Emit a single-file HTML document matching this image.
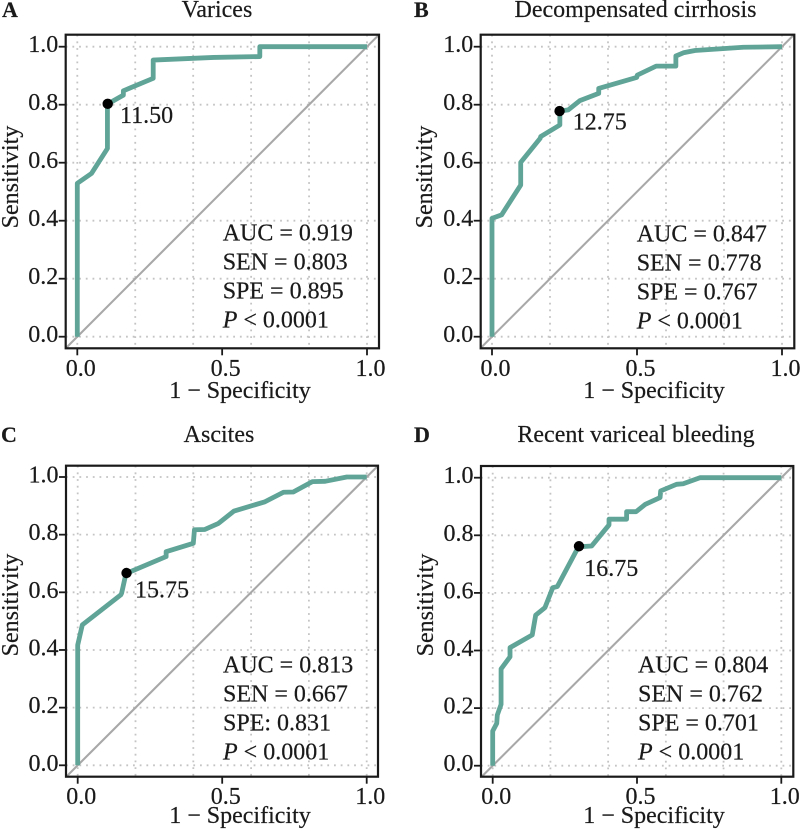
<!DOCTYPE html>
<html>
<head>
<meta charset="utf-8">
<style>
html,body{margin:0;padding:0;background:#fff;}
svg{display:block;font-family:"Liberation Serif",serif;fill:#1a1a1a;}
svg text{stroke:#1a1a1a;stroke-width:0.2px;}
</style>
</head>
<body>
<svg id="chart" width="800" height="830" viewBox="0 0 800 830" xmlns="http://www.w3.org/2000/svg"></svg>
<script>
// Axis values
const gridValues = [0, 0.2, 0.4, 0.6, 0.8, 1];
const xTickValues = [0, 0.5, 1];
const xTickLabels = ["0.0", "0.5", "1.0"];
const yTickValues = [0, 0.2, 0.4, 0.6, 0.8, 1];
const yTickLabels = ["0.0", "0.2", "0.4", "0.6", "0.8", "1.0"];

// Panel A: Varices
const fprA = [0, 0, 0.049, 0.104, 0.104, 0.159, 0.159, 0.262, 0.262, 0.47, 0.63, 0.63, 1];
const tprA = [0, 0.529, 0.563, 0.649, 0.802, 0.833, 0.848, 0.891, 0.954, 0.963, 0.966, 1, 1];
const cutoffA = [0.105, 0.803];

// Panel B: Decompensated cirrhosis
const fprB = [0, 0, 0.033, 0.099, 0.099, 0.166, 0.168, 0.234, 0.234, 0.263, 0.303, 0.368, 0.368, 0.499, 0.501, 0.566, 0.634, 0.634, 0.66, 0.7, 0.867, 1];
const tprB = [0, 0.408, 0.42, 0.523, 0.601, 0.684, 0.69, 0.73, 0.778, 0.782, 0.814, 0.839, 0.856, 0.894, 0.902, 0.933, 0.933, 0.968, 0.979, 0.987, 0.998, 1];
const cutoffB = [0.233, 0.778];

// Panel C: Ascites
const fprC = [0, 0, 0.016, 0.149, 0.152, 0.167, 0.306, 0.306, 0.4, 0.404, 0.44, 0.487, 0.541, 0.648, 0.712, 0.746, 0.812, 0.856, 0.931, 1];
const tprC = [0, 0.417, 0.487, 0.591, 0.597, 0.665, 0.724, 0.741, 0.77, 0.817, 0.818, 0.839, 0.882, 0.914, 0.947, 0.948, 0.984, 0.985, 1, 1];
const cutoffC = [0.169, 0.667];

// Panel D: Recent variceal bleeding
const fprD = [0, 0, 0.014, 0.016, 0.029, 0.029, 0.06, 0.06, 0.137, 0.149, 0.181, 0.208, 0.224, 0.297, 0.343, 0.403, 0.403, 0.464, 0.464, 0.497, 0.528, 0.58, 0.582, 0.637, 0.66, 0.718, 1];
const tprD = [0, 0.12, 0.147, 0.176, 0.213, 0.336, 0.378, 0.41, 0.454, 0.523, 0.549, 0.618, 0.622, 0.76, 0.763, 0.836, 0.856, 0.856, 0.882, 0.882, 0.907, 0.931, 0.954, 0.977, 0.979, 1, 1];
const cutoffD = [0.299, 0.762];

// Printed statistics
const statsA = ["AUC = 0.919", "SEN = 0.803", "SPE = 0.895"];
const statsB = ["AUC = 0.847", "SEN = 0.778", "SPE = 0.767"];
const statsC = ["AUC = 0.813", "SEN = 0.667", "SPE: 0.831"];
const statsD = ["AUC = 0.804", "SEN = 0.762", "SPE = 0.701"];

const NS = "http://www.w3.org/2000/svg";
const root = document.getElementById("chart");
const FONT = 24;

function mk(parent, tag, attrs) {
  const el = document.createElementNS(NS, tag);
  for (const k in attrs) el.setAttribute(k, attrs[k]);
  parent.appendChild(el);
  return el;
}

function drawPanel(o) {
  const g = mk(root, "g", {});
  
  

  const sx = v => o.x0 + v * (o.x1 - o.x0);
  const sy = v => o.y0 + v * (o.y1 - o.y0);

  const letter = mk(g, "text", {x: o.letterX, y: o.titleY, "font-size": 22, "font-weight": "bold"});
  letter.textContent = o.id;
  
  

  const title = mk(g, "text", {x: o.titleX, y: o.titleY, "font-size": FONT, "text-anchor": "middle"});
  title.textContent = o.title;
  
  

  const clipId = "clip" + o.id;
  const clip = mk(g, "clipPath", {id: clipId});
  mk(clip, "rect", {x: o.left, y: o.top, width: o.right - o.left, height: o.bottom - o.top});

  gridValues.forEach(v => {
    const gv = mk(g, "line", {x1: sx(v), x2: sx(v), y1: o.top, y2: o.bottom, stroke: "#c4c4c4", "stroke-width": 1.8, "stroke-dasharray": "1.8 4.9"});
    
    
    const gh = mk(g, "line", {x1: o.left, x2: o.right, y1: sy(v), y2: sy(v), stroke: "#c4c4c4", "stroke-width": 1.8, "stroke-dasharray": "1.8 4.9"});
    
    
  });

  const diag = mk(g, "line", {
    x1: sx(-0.1), y1: sy(-0.1), x2: sx(1.1), y2: sy(1.1),
    stroke: "#a8a8a8", "stroke-width": 2.1, "clip-path": "url(#" + clipId + ")"
  });
  
  

  const pts = o.fpr.map((f, i) => sx(f).toFixed(2) + "," + sy(o.tpr[i]).toFixed(2)).join(" ");
  const curve = mk(g, "polyline", {points: pts, fill: "none", stroke: "#5fa497", "stroke-width": 4.8, "stroke-linejoin": "round"});
  
  

  const frame = mk(g, "rect", {x: o.left, y: o.top, width: o.right - o.left, height: o.bottom - o.top, fill: "none", stroke: "#1a1a1a", "stroke-width": 2.2});
  
  

  xTickValues.forEach((v, i) => {
    const t = mk(g, "line", {x1: sx(v), x2: sx(v), y1: o.bottom, y2: o.bottom + 7, stroke: "#1a1a1a", "stroke-width": 1.8});
    
    
    const l = mk(g, "text", {x: sx(v) + 3.5, y: o.bottom + 27.5, "font-size": FONT, "text-anchor": "middle"});
    l.textContent = xTickLabels[i];
    
    
  });

  yTickValues.forEach((v, i) => {
    const t = mk(g, "line", {x1: o.left - 7, x2: o.left, y1: sy(v), y2: sy(v), stroke: "#1a1a1a", "stroke-width": 1.8});
    
    
    const l = mk(g, "text", {x: o.left - 7.5, y: sy(v) + 5.5, "font-size": FONT, "text-anchor": "end"});
    l.textContent = yTickLabels[i];
    
    
  });

  const xt = mk(g, "text", {x: o.xTitleX, y: o.xTitleY, "font-size": FONT, "text-anchor": "middle"});
  xt.textContent = "1 \u2212 Specificity";
  
  

  const yt = mk(g, "text", {
    transform: "translate(" + o.yTitleX + "," + o.yTitleY + ") rotate(-90)",
    "font-size": FONT, "text-anchor": "middle"
  });
  yt.textContent = "Sensitivity";
  
  

  const dot = mk(g, "circle", {cx: sx(o.cutoff[0]), cy: sy(o.cutoff[1]), r: 5.2, fill: "#000"});
  
  

  const dl = mk(g, "text", {x: o.cutLabelX, y: o.cutLabelY, "font-size": FONT});
  dl.textContent = o.cutLabel;
  
  

  o.stats.forEach((s, i) => {
    const st = mk(g, "text", {x: o.statX, y: o.statY + i * 29, "font-size": FONT});
    st.textContent = s;
    
    
  });

  const p = mk(g, "text", {x: o.statX, y: o.statY + 87, "font-size": FONT});
  
  
  const pi = mk(p, "tspan", {"font-style": "italic"});
  pi.textContent = "P";
  const pr = mk(p, "tspan", {});
  pr.textContent = " < 0.0001";
}

drawPanel({id: "A", title: "Varices", fpr: fprA, tpr: tprA, cutoff: cutoffA, cutLabel: "11.50", stats: statsA,
  left: 65.7, right: 379, top: 34.7, bottom: 348.3, x0: 77.3, x1: 367, y0: 336.7, y1: 46.7,
  letterX: 2, titleX: 217, titleY: 17, xTitleX: 240, xTitleY: 398, yTitleX: 18, yTitleY: 177,
  cutLabelX: 120, cutLabelY: 123, statX: 222.7, statY: 240.7});

drawPanel({id: "B", title: "Decompensated cirrhosis", fpr: fprB, tpr: tprB, cutoff: cutoffB, cutLabel: "12.75", stats: statsB,
  left: 480.7, right: 794.3, top: 34.7, bottom: 348.3, x0: 492, x1: 782, y0: 336.7, y1: 46.7,
  letterX: 414, titleX: 635.5, titleY: 17, xTitleX: 654, xTitleY: 398, yTitleX: 432, yTitleY: 177,
  cutLabelX: 572.7, cutLabelY: 129.3, statX: 636.7, statY: 241.4});

drawPanel({id: "C", title: "Ascites", fpr: fprC, tpr: tprC, cutoff: cutoffC, cutLabel: "15.75", stats: statsC,
  left: 66, right: 378, top: 465.7, bottom: 776.7, x0: 77.7, x1: 366.7, y0: 765.3, y1: 477,
  letterX: 1, titleX: 219, titleY: 442, xTitleX: 240, xTitleY: 823, yTitleX: 18, yTitleY: 605,
  cutLabelX: 135, cutLabelY: 597.7, statX: 223, statY: 672.7});

drawPanel({id: "D", title: "Recent variceal bleeding", fpr: fprD, tpr: tprD, cutoff: cutoffD, cutLabel: "16.75", stats: statsD,
  left: 481, right: 793.3, top: 466, bottom: 776.7, x0: 492.7, x1: 781.3, y0: 765.7, y1: 477.7,
  letterX: 414, titleX: 636, titleY: 442, xTitleX: 654, xTitleY: 823, yTitleX: 433, yTitleY: 605,
  cutLabelX: 584.3, cutLabelY: 576, statX: 638, statY: 672.7});
</script>
</body>
</html>
